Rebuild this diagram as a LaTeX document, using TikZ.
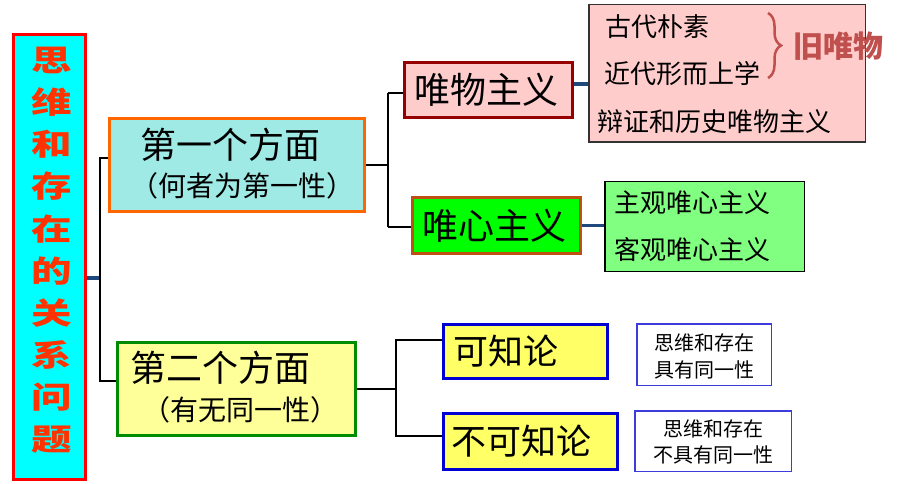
\documentclass[tikz,border=0pt]{standalone}
\usepackage{fontspec}
\setmainfont{Noto Sans CJK SC}
\usetikzlibrary{decorations.pathreplacing}
\definecolor{xanhlam}{RGB}{0,255,255}
\definecolor{camdo}{RGB}{255,51,0}
\definecolor{xanhnhat}{RGB}{160,234,230}
\definecolor{cam}{RGB}{255,102,0}
\definecolor{vangnhat}{RGB}{255,255,153}
\definecolor{xanhla}{RGB}{0,140,0}
\definecolor{hong}{RGB}{255,204,204}
\definecolor{donau}{RGB}{150,0,0}
\definecolor{luc}{RGB}{0,255,0}
\definecolor{nau}{RGB}{190,80,20}
\definecolor{lucnhat}{RGB}{128,255,128}
\definecolor{vang}{RGB}{255,255,102}
\definecolor{lam}{RGB}{0,0,210}
\definecolor{lamnhat}{RGB}{60,60,220}
\definecolor{noixanh}{RGB}{31,73,125}
\definecolor{dogach}{RGB}{192,80,77}
\newcommand\cochu[1]{\fontsize{#1}{#1}\selectfont}
\begin{document}
\begin{tikzpicture}[line join=miter,x=1pt,y=-1pt,
	khung/.style={draw,line width=3pt,inner sep=0pt},
	khungmanh/.style={draw,line width=1.5pt,inner sep=0pt},
	nhanh/.style={line width=2.5pt,black},
	nhanhmanh/.style={line width=1.5pt,black},
	noi/.style={line width=3.5pt,noixanh},
	chu/.style={inner sep=0pt}]
	\useasboundingbox (0,0) rectangle (922,484); %khung anh
	% Cot ben trai
	\node[khung,draw=red,fill=xanhlam,minimum width=72pt,minimum height=445pt] (trai) at (49.5,257) {};
	\foreach \c [count=\i] in {思,维,和,存,在,的,关,系,问,题} %viet chu doc
	\node[chu,text=camdo,font=\cochu{30}\bfseries,xscale=1.35,transform shape] (c\i) at (52,{60+42.2*(\i-1)}) {\c};
	% Hai phuong dien
	\node[khung,draw=cam,fill=xanhnhat,minimum width=255pt,minimum height=93pt] (m1) at (237,165) {};
	\node[chu,font=\cochu{36}] (m1a) at (230,145) {第一个方面};
	\node[chu,font=\cochu{28}] (m1b) at (242,186) {（何者为第一性）};
	\node[khung,draw=xanhla,fill=vangnhat,minimum width=238pt,minimum height=93pt] (m2) at (236.5,389) {};
	\node[chu,font=\cochu{36}] (m2a) at (220,368) {第二个方面};
	\node[chu,font=\cochu{28}] (m2b) at (240,410) {（有无同一性）};
	% Nhanh thu nhat
	\node[khung,draw=donau,fill=hong,minimum height=55pt,text width=149pt,inner xsep=9.5pt,font=\cochu{36}] (wm) at (488.5,90) {唯物主义};
	\node[khung,draw=nau,fill=luc,minimum height=56pt,text width=149pt,inner xsep=9.5pt,font=\cochu{36}] (wx) at (496.5,225.5) {唯心主义};
	\node[khungmanh,draw=black!80,fill=hong,minimum width=276.5pt,minimum height=137.5pt] (wmds) at (727,73.5) {};
	\node[chu,anchor=west,font=\cochu{26}] (wm1) at (605,27) {古代朴素};
	\node[chu,anchor=west,font=\cochu{26}] (wm2) at (604,74) {近代形而上学};
	\node[chu,anchor=west,font=\cochu{26}] (wm3) at (597,122) {辩证和历史唯物主义};
	\node[khungmanh,fill=lucnhat,minimum width=199.5pt,minimum height=89.5pt] (wxds) at (704.5,226.5) {};
	\node[chu,anchor=west,font=\cochu{26}] (wx1) at (614,203) {主观唯心主义};
	\node[chu,anchor=west,font=\cochu{26}] (wx2) at (614,250) {客观唯心主义};
	% Dau ngoac
	\coordinate (ng1) at (768,13);
	\coordinate (ng2) at (768,78);
	\draw[dogach,line width=2.5pt,decorate,decoration={brace,amplitude=13pt}] (ng1) -- (ng2);
	\node[chu,text=dogach,font=\cochu{30}\bfseries] (cu) at (838,46) {旧唯物};
	% Nhanh thu hai
	\node[khung,draw=lam,fill=vang,minimum height=54pt,text width=145pt,inner xsep=9.5pt,font=\cochu{35}] (kz) at (525.5,351.5) {可知论};
	\node[khung,draw=lam,fill=vang,minimum height=56pt,text width=159pt,inner xsep=7.5pt,font=\cochu{35}] (bkz) at (530.5,441.5) {不可知论};
	\node[khungmanh,draw=lamnhat,fill=white,minimum width=134.5pt,minimum height=61.5pt] (kzy) at (704,354.5) {};
	\node[chu,font=\cochu{20}] (kzy1) at (704,343) {思维和存在};
	\node[chu,font=\cochu{20}] (kzy2) at (704,370) {具有同一性};
	\node[khungmanh,draw=lamnhat,fill=white,minimum width=156.5pt,minimum height=60.5pt] (bkzy) at (713,441) {};
	\node[chu,font=\cochu{20}] (bkzy1) at (713,429) {思维和存在};
	\node[chu,font=\cochu{20}] (bkzy2) at (713,455) {不具有同一性};
	% Cac duong noi
	\coordinate (g0) at (100,278);
	\coordinate (g1) at (100,158);
	\coordinate (g2) at (100,381);
	\draw[noi] (g0 -| trai.east) -- (g0);
	\draw[nhanh] (g1 -| m1.west) -- (g1) -- (g2) -- (g2 -| m2.west);
	\coordinate (g3) at (388,93);
	\coordinate (g4) at (388,227);
	\draw[nhanh] (m1.east) -- (m1.east -| g3);
	\draw[nhanh] (g3) -- (g4);
	\draw[nhanhmanh] (g3) -- (g3 -| wm.west);
	\draw[nhanhmanh] (g4) -- (g4 -| wx.west);
	\coordinate (g5) at (396,340);
	\coordinate (g6) at (396,436);
	\draw[nhanh] (m2.east) -- (m2.east -| g5);
	\draw[nhanh] (g5 -| kz.west) -- (g5) -- (g6) -- (g6 -| bkz.west);
	\coordinate (h1) at ([yshift=6pt]wm.east);
	\draw[noi] (h1) -- (h1 -| wmds.west);
	\draw[noi] (wx.east) -- (wx.east -| wxds.west);
\end{tikzpicture}
\end{document}
